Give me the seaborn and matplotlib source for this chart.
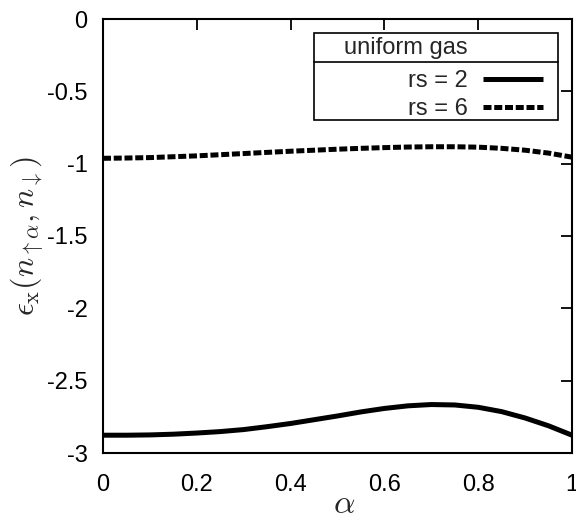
import numpy as np
import pandas as pd
import seaborn as sns
import matplotlib
matplotlib.use("Agg")
import matplotlib.pyplot as plt
from matplotlib.ticker import FuncFormatter
from matplotlib.patches import Rectangle

# ---- data ----
alpha = [0.0, 0.05, 0.1, 0.15, 0.2, 0.25, 0.3, 0.35, 0.4, 0.45, 0.5,
         0.55, 0.6, 0.65, 0.7, 0.75, 0.8, 0.85, 0.9, 0.95, 1.0]
eps_rs2 = [-2.877, -2.877, -2.875, -2.870, -2.862, -2.852, -2.838, -2.818,
           -2.796, -2.770, -2.744, -2.716, -2.692, -2.674, -2.665, -2.668,
           -2.684, -2.714, -2.758, -2.812, -2.877]
eps_rs6 = [-0.963, -0.961, -0.958, -0.952, -0.946, -0.938, -0.930, -0.922,
           -0.914, -0.907, -0.900, -0.894, -0.889, -0.885, -0.883, -0.883,
           -0.886, -0.894, -0.907, -0.927, -0.955]
series_labels = ["rs = 2", "rs = 6"]
legend_title = "uniform gas"
xticks = [0, 0.2, 0.4, 0.6, 0.8, 1]
yticks = [0, -0.5, -1, -1.5, -2, -2.5, -3]

sns.set_theme(style="white")
plt.rcParams["font.family"] = ["Liberation Sans", "DejaVu Sans"]
plt.rcParams["mathtext.fontset"] = "cm"
plt.rcParams["axes.unicode_minus"] = False

df = pd.DataFrame({
    "alpha": alpha * 2,
    "eps": eps_rs2 + eps_rs6,
    "rs": [series_labels[0]] * len(alpha) + [series_labels[1]] * len(alpha),
})

fig = plt.figure(figsize=(5.76, 5.14), dpi=100)
ax = fig.add_axes([103 / 576, 1 - 453 / 514, 469 / 576, 434 / 514])

sns.lineplot(data=df, x="alpha", y="eps", style="rs",
             dashes={series_labels[0]: "", series_labels[1]: (1.6, 0.55)},
             color="black", linewidth=3.6, ax=ax, legend=True)
for ln in ax.get_lines():
    ln.set_dash_capstyle("butt")
    ln.set_solid_capstyle("butt")

ax.set_xlim(0, 1)
ax.set_ylim(-3, 0)
ax.set_xticks(xticks)
ax.set_yticks(yticks)
ax.xaxis.set_major_formatter(FuncFormatter(lambda v, p: f"{v:g}"))
ax.yaxis.set_major_formatter(FuncFormatter(lambda v, p: f"{v:g}"))
ax.tick_params(direction="in", length=8, width=1.3, top=True, right=True,
               labelsize=17, colors="black")
ax.tick_params(axis="x", pad=15)
ax.tick_params(axis="y", pad=11)
for s in ax.spines.values():
    s.set_color("black")
    s.set_linewidth(1.5)

ax.set_xlabel(r"$\alpha$", fontsize=24)
ax.xaxis.set_label_coords(0.514, -0.118)
ax.xaxis.label.set_va("center")
ax.set_ylabel(r"$\epsilon_{\rm x}(n_{\uparrow\alpha}, n_{\downarrow})$",
              fontsize=23, labelpad=1)

# legend box (gnuplot style: frame + title separator)
box = Rectangle((0.45, 0.767), 0.52, 0.201, transform=ax.transAxes,
                facecolor="white", edgecolor="black", linewidth=1.2,
                zorder=5, clip_on=False)
ax.add_patch(box)
ax.plot([0.45, 0.97], [0.901, 0.901], transform=ax.transAxes,
        color="black", linewidth=1.2, clip_on=False, zorder=6)
ax.text(0.778, 0.933, legend_title, transform=ax.transAxes, ha="right",
        va="center", fontsize=17, zorder=7)

handles, labels = ax.get_legend_handles_labels()
leg = ax.legend(handles, labels, loc="center right",
                bbox_to_anchor=(0.938, 0.824), borderaxespad=0,
                frameon=False, fontsize=17, markerfirst=False,
                handlelength=2.55, labelspacing=0.25, borderpad=0,
                handletextpad=0.62)
leg.set_zorder(8)
for t in leg.get_texts():
    t.set_ha("right")

fig.savefig("out.png", dpi=100)
